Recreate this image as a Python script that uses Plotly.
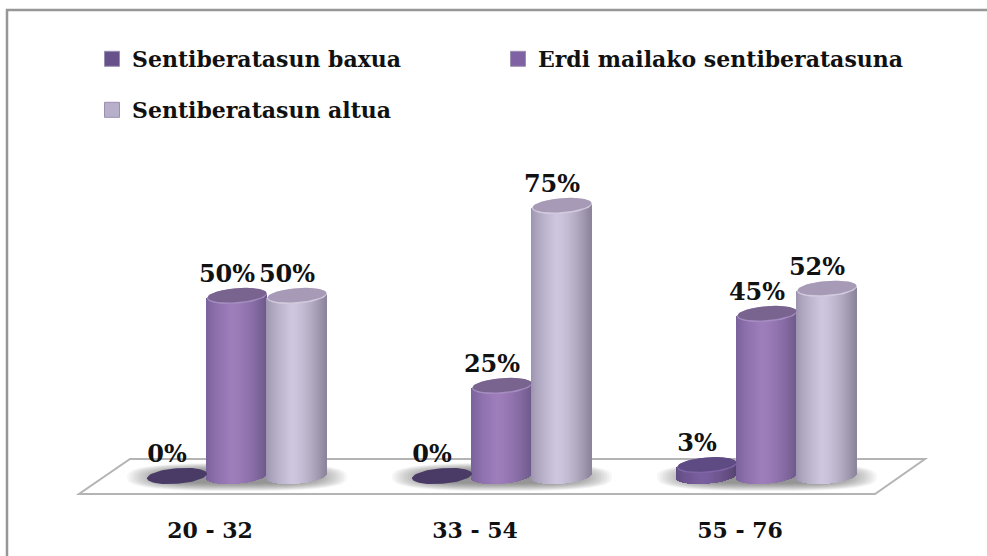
import math
import plotly.graph_objects as go

categories = ["20 - 32", "33 - 54", "55 - 76"]
series_names = ["Sentiberatasun baxua", "Erdi mailako sentiberatasuna", "Sentiberatasun altua"]
baxua = [0, 0, 3]
erdi = [50, 25, 45]
altua = [50, 75, 52]
values = [baxua, erdi, altua]

# colour stops across a cylinder: edge, highlight, edge; then top face, top rim
side_left = ["#5f4a80", "#77609a", "#9a92ac"]
side_mid = ["#7a5f9f", "#9e7dbb", "#cdc6de"]
side_right = ["#57436f", "#6e5a8c", "#8b8399"]
top_face = ["#5f4b84", "#79648f", "#a79ab6"]
top_rim = ["#7f65a6", "#a58cc0", "#d2cbde"]
flat_face = "#4a3a66"
legend_colors = ["#67518a", "#7f62a3", "#b8afca"]

W, H = 987, 556
MB = 46
PX_X = 265.0        # pixels per category step
PX_Y = 3.6          # pixels per percentage point
X0_PX, Y0_PX = 237, 476
FONT = "DejaVu Serif"
INK = "#111111"


def dx(px):
    return px / PX_X


def dy(px):
    return px / PX_Y


def hex_rgb(c):
    return tuple(int(c[i:i + 2], 16) for i in (1, 3, 5))


def mix(a, b, t):
    ra, rb = hex_rgb(a), hex_rgb(b)
    return "rgb(%d,%d,%d)" % tuple(round(p + (q - p) * t) for p, q in zip(ra, rb))


def side_color(s, u):
    h = 0.42
    if u < h:
        return mix(side_left[s], side_mid[s], (u / h) ** 0.7)
    return mix(side_mid[s], side_right[s], ((u - h) / (1 - h)) ** 1.6)


RX, RY, TILT = 30.0, 7.8, 0.075    # ellipse half axes (px), tilt slope


def ellipse(cx_px_off, cat, val, rx=RX, ry=RY, shift=0.0, n=72):
    xs, ys = [], []
    for k in range(n + 1):
        a = 2 * math.pi * k / n
        ex = rx * math.cos(a)
        ey = ry * math.sin(a) + TILT * ex + shift
        xs.append(cat + dx(cx_px_off + ex))
        ys.append(val + dy(ey))
    return xs, ys


fig = go.Figure()
OFFS = [-60, 0, 60]

# cylinder bodies: one bar per pixel column
for s, vals in enumerate(values):
    bx, by, bb, bc = [], [], [], []
    for c, v in enumerate(vals):
        if v == 0:
            continue
        for px in range(60):
            e = px + 0.5 - RX
            low = -RY * math.sqrt(max(0, 1 - (e / RX) ** 2)) + TILT * e
            high = TILT * e
            bx.append(c + dx(OFFS[s] + e))
            bb.append(dy(low))
            by.append(v + dy(high) - dy(low))
            bc.append(side_color(s, (px + 0.5) / 60))
    if bx:
        fig.add_trace(go.Bar(x=bx, y=by, base=bb, width=dx(1.02),
                             marker=dict(color=bc, line=dict(width=0)),
                             showlegend=False, hoverinfo="skip"))

# cylinder tops
for s, vals in enumerate(values):
    for c, v in enumerate(vals):
        if v == 0:
            xs, ys = ellipse(OFFS[s], c, v)
            fig.add_trace(go.Scatter(x=xs, y=ys, mode="lines", fill="toself", fillcolor=flat_face,
                                     line=dict(width=0), showlegend=False, hoverinfo="skip"))
        else:
            xs, ys = ellipse(OFFS[s], c, v)
            fig.add_trace(go.Scatter(x=xs, y=ys, mode="lines", fill="toself", fillcolor=top_rim[s],
                                     line=dict(width=0), showlegend=False, hoverinfo="skip"))
            xs, ys = ellipse(OFFS[s], c, v, rx=29.3, ry=7.0, shift=0.8)
            fig.add_trace(go.Scatter(x=xs, y=ys, mode="lines", fill="toself", fillcolor=top_face[s],
                                     line=dict(width=0), showlegend=False, hoverinfo="skip"))

# data labels
LABEL_DX, LABEL_DY = -10, 20
for s, vals in enumerate(values):
    fig.add_trace(go.Scatter(
        x=[c + dx(LABEL_DX + OFFS[s]) for c in range(len(vals))],
        y=[v + dy(LABEL_DY) for v in vals],
        mode="text", text=[f"{v}%" for v in vals], textposition="middle center",
        textfont=dict(family=FONT, size=24, color=INK, weight="bold"),
        showlegend=False, hoverinfo="skip"))

# legend entries
legend_ids = ["legend", "legend2", "legend3"]
for s, name in enumerate(series_names):
    fig.add_trace(go.Scatter(x=[None], y=[None], mode="markers", name=name, legend=legend_ids[s],
                             marker=dict(symbol="square", size=15, color=legend_colors[s],
                                         line=dict(color="#9a8fb0", width=1))))


# floor and soft shadows, below every trace
def px2x(p):
    return (p - X0_PX) / PX_X


def px2y(p):
    return (Y0_PX - p) / PX_Y


floor = [(79, 494), (875, 494), (925, 459), (130, 459)]
path = "M " + " L ".join(f"{px2x(a):.5f},{px2y(b):.5f}" for a, b in floor) + " Z"
shapes = [dict(type="path", path=path, xref="x", yref="y", layer="below",
               fillcolor="#ffffff", line=dict(color="#b4b4b4", width=2))]
for c in range(len(categories)):
    for i in range(16):
        rx = 110 - i * 2.6
        ry = 14 - i * 0.5
        pts = []
        for k in range(48):
            a = 2 * math.pi * k / 48
            ca, sa = math.cos(a), math.sin(a)
            ex = rx * math.copysign(abs(ca) ** 0.7, ca)
            ey = ry * math.copysign(abs(sa) ** 0.7, sa)
            pts.append(f"{c + dx(ex):.5f},{dy(-ey - 1):.5f}")
        shapes.append(dict(type="path", path="M " + " L ".join(pts) + " Z", xref="x", yref="y",
                           layer="below", fillcolor="#555555", opacity=0.05, line=dict(width=0)))

# outer frame
shapes.append(dict(type="rect", xref="paper", yref="paper", layer="below",
                   x0=7 / W, x1=(W + 20) / W, y0=-1, y1=(H - MB - 10) / (H - MB),
                   line=dict(color="#979797", width=2.5), fillcolor="rgba(0,0,0,0)"))

legend_font = dict(family=FONT, size=22, color=INK, weight="bold")
PLOT_H = H - MB


def leg(xpx, ypx):
    return dict(x=xpx / W, y=1 - ypx / PLOT_H, xanchor="left", yanchor="middle",
                font=legend_font, bgcolor="rgba(0,0,0,0)", borderwidth=0, itemclick=False,
                itemdoubleclick=False)


fig.update_layout(
    width=W, height=H, autosize=False,
    margin=dict(l=0, r=0, t=0, b=MB),
    paper_bgcolor="#ffffff", plot_bgcolor="#ffffff",
    barmode="overlay", bargap=0, showlegend=True,
    shapes=shapes,
    legend=leg(92, 59), legend2=leg(498, 59), legend3=leg(92, 110),
    xaxis=dict(range=[-X0_PX / PX_X, (W - X0_PX) / PX_X], tickmode="array",
               tickvals=[c + dx(-27) for c in range(len(categories))], ticktext=categories,
               showgrid=False, zeroline=False, showline=False,
               ticks="outside", ticklen=1, tickcolor="rgba(0,0,0,0)",
               tickfont=dict(family=FONT, size=22, color=INK, weight="bold")),
    yaxis=dict(range=[(Y0_PX - (H - MB)) / PX_Y, Y0_PX / PX_Y], visible=False),
    hovermode=False,
)
fig.write_html("out.html", config=dict(displayModeBar=False),
               post_script="document.body.style.margin='0';document.body.style.overflow='hidden';")
